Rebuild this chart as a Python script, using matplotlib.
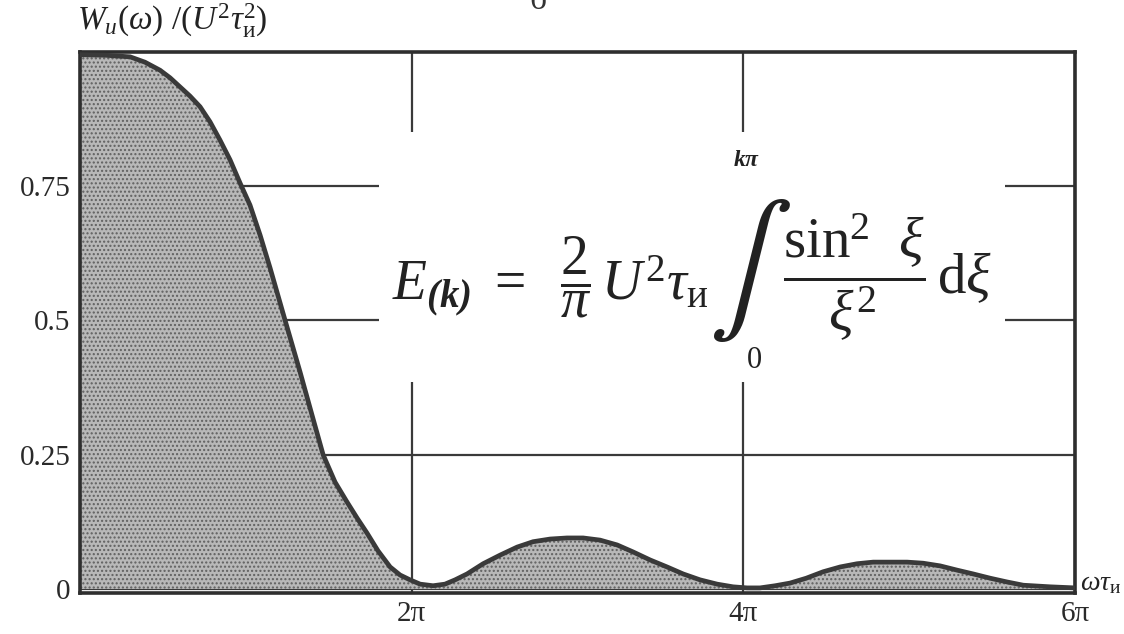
import numpy as np
import matplotlib.pyplot as plt
from matplotlib.patches import Rectangle

plt.rcParams['font.family'] = ['Liberation Serif', 'DejaVu Serif']
plt.rcParams['mathtext.fontset'] = 'custom'
plt.rcParams['mathtext.rm'] = 'Liberation Serif'
plt.rcParams['mathtext.it'] = 'Liberation Serif:italic'
plt.rcParams['mathtext.bf'] = 'Liberation Serif:bold'
plt.rcParams['mathtext.bfit'] = 'Liberation Serif:italic:bold'

# energy spectrum of a rectangular pulse; frequency in units of pi
x_pi = [0.0, 0.151, 0.302, 0.392, 0.483, 0.543, 0.603, 0.663, 0.724, 0.784,
        0.844, 0.905, 0.965, 1.025, 1.086, 1.146, 1.236, 1.327, 1.399, 1.466,
        1.538, 1.610, 1.671, 1.731, 1.797, 1.870, 1.930, 1.990, 2.051, 2.129,
        2.201, 2.262, 2.334, 2.431, 2.533, 2.636, 2.732, 2.835, 2.937, 3.034,
        3.136, 3.239, 3.335, 3.438, 3.540, 3.637, 3.739, 3.842, 3.938, 4.023,
        4.101, 4.192, 4.282, 4.379, 4.481, 4.584, 4.686, 4.783, 4.885, 4.988,
        5.084, 5.187, 5.290, 5.386, 5.489, 5.591, 5.688, 5.850, 6.0]
w = [0.995, 0.994, 0.991, 0.981, 0.966, 0.952, 0.935, 0.918, 0.898, 0.870,
     0.836, 0.799, 0.756, 0.715, 0.659, 0.598, 0.501, 0.404, 0.324, 0.250,
     0.199, 0.162, 0.132, 0.104, 0.071, 0.041, 0.026, 0.017, 0.009, 0.006,
     0.009, 0.017, 0.028, 0.047, 0.063, 0.078, 0.088, 0.093, 0.095, 0.095,
     0.091, 0.082, 0.069, 0.054, 0.041, 0.028, 0.017, 0.009, 0.004, 0.002,
     0.002, 0.006, 0.011, 0.020, 0.032, 0.041, 0.047, 0.050, 0.050, 0.050,
     0.048, 0.043, 0.035, 0.028, 0.020, 0.013, 0.007, 0.004, 0.002]

y_ticks = [0, 0.25, 0.5, 0.75]
y_labels = ['0', '0.25', '0.5', '0.75']
x_ticks = [2, 4, 6]
x_labels = ['2π', '4π', '6π']

x = np.array(x_pi) * np.pi

W, H = 1124, 634
fig = plt.figure(figsize=(W / 100, H / 100), dpi=100)
ax = fig.add_axes([80 / W, 1 - 593 / H, 995 / W, 541 / H])

ax.fill_between(x, w, 0, facecolor='#b8b8b8', edgecolor='#606060',
                hatch='....', linewidth=0, zorder=1.2)
ax.plot(x, w, color='#3a3a3a', lw=3.4, solid_capstyle='round',
        solid_joinstyle='round', zorder=3)

ax.set_xlim(0, 6 * np.pi)
ax.set_ylim(-0.0075, 1.0)

ax.set_yticks(y_ticks)
ax.set_yticklabels(y_labels, fontsize=21)
ax.set_xticks(np.array(x_ticks) * np.pi)
ax.set_xticklabels(x_labels, fontsize=21)
ax.tick_params(length=0, pad=7, colors='#2a2a2a')
ax.tick_params(axis='x', pad=6)
ax.grid(True, color='#3a3a3a', lw=1.6)
ax.set_axisbelow(True)
for s in ax.spines.values():
    s.set_color('#2e2e2e')
    s.set_linewidth(2.6)

# blank panel behind the formula
ax.add_patch(Rectangle((0.30, 0.39), 0.63, 0.462, transform=ax.transAxes,
                       facecolor='white', edgecolor='none', zorder=1))

def px(xp, yp):
    return xp / W, 1 - yp / H

fig.text(*px(392, 277),
         r'$E_{\mathbfit{(k)}}\ =\ \ \dfrac{2}{\pi}\,U^2\tau_{\mathrm{и}}$',
         fontsize=40, va='center', ha='left', color='#222')
fig.text(*px(750, 270), r'$\int$', fontsize=90, va='center', ha='center',
         color='#222', math_fontfamily='stix')
fig.text(*px(747, 160), r'$\mathbfit{k\pi}$', fontsize=17, va='center', ha='center', color='#222')
fig.text(*px(754, 360), '0', fontsize=22, va='center', ha='center', color='#222')
fig.text(*px(783, 277), r'$\dfrac{\mathrm{sin}^2\ \ \xi}{\xi^2}\,\mathrm{d}\xi$',
         fontsize=41, va='center', ha='left', color='#222')

fig.text(*px(77, 30), r'$W_{\mathit{u}}(\omega)\ /(U^{2}\tau_{\mathrm{и}}^{2})$',
         fontsize=24, va='baseline', ha='left', color='#222')
fig.text(*px(1080, 584), r'$\omega\tau_{\mathrm{и}}$', fontsize=20,
         va='center', ha='left', color='#222')
fig.text(*px(538, 9), 'б', fontsize=24, va='baseline', ha='center', color='#333')

fig.savefig('out.png', dpi=100, facecolor='white')
